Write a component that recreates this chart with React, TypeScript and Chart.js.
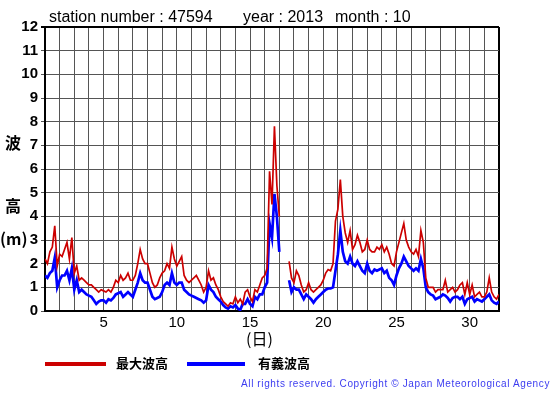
import React, { useEffect, useRef } from "react";
import { Chart, registerables } from "chart.js";

Chart.register(...registerables);

// Sampling: every 4 hours (6 samples per day), starting Oct 1 00:00 (day 1.0)
const FIRST_DAY = 1;
const SAMPLES_PER_DAY = 6;

// Y ticks 0..12, X ticks labelled at 5,10,...,30
const Y_MIN = 0;
const Y_MAX = 12;
const X_MIN = 1;
const X_MAX = 32;
const X_LABELS = [5, 10, 15, 20, 25, 30];

// 最大波高 (m)
const MAX_WAVE: (number | null)[] = [
  2.2, 2.0, 2.5, 2.7, 3.6, 1.9, // 1
  2.4, 2.3, 2.6, 2.9, 2.2, 3.1, // 2
  1.6, 1.9, 1.3, 1.4, 1.3, 1.2, // 3
  1.1, 1.1, 1.0, 0.9, 0.8, 0.9, // 4
  0.85, 0.8, 0.9, 0.8, 1.0, 1.3, // 5
  1.2, 1.5, 1.3, 1.4, 1.6, 1.3, // 6
  1.3, 1.5, 2.0, 2.6, 2.2, 2.0, // 7
  2.0, 1.6, 1.2, 1.0, 1.1, 1.4, // 8
  1.6, 1.7, 2.0, 1.8, 2.7, 2.2, // 9
  1.9, 2.1, 2.3, 1.5, 1.3, 1.2, // 10
  1.3, 1.4, 1.5, 1.3, 1.1, 0.8, // 11
  1.0, 1.7, 1.3, 1.4, 1.1, 0.9, // 12
  0.6, 0.4, 0.3, 0.2, 0.35, 0.3, // 13
  0.6, 0.35, 0.5, 0.3, 0.8, 0.9, // 14
  0.6, 0.4, 0.9, 0.8, 1.1, 1.4, // 15
  1.5, 1.8, 5.9, 4.5, 7.8, 5.3, // 16
  4.0, null, null, null, 2.1, 1.4, // 17
  1.2, 1.7, 1.5, 1.1, 0.8, 0.9, // 18
  1.2, 0.9, 0.8, 0.9, 1.0, 1.1, // 19
  1.3, 1.6, 1.75, 1.7, 2.0, 3.8, // 20
  4.3, 5.55, 4.0, 3.3, 2.9, 3.4, // 21
  2.6, 2.8, 3.2, 2.9, 2.5, 2.6, // 22
  3.0, 2.6, 2.5, 2.5, 2.7, 2.6, // 23
  2.8, 2.5, 2.7, 2.4, 2.0, 1.9, // 24
  2.5, 2.9, 3.3, 3.7, 3.0, 2.7, // 25
  2.5, 2.4, 2.6, 2.3, 3.4, 2.9, // 26
  1.4, 1.0, 1.0, 1.0, 0.8, 0.9, // 27
  0.9, 0.9, 1.3, 0.8, 0.9, 1.0, // 28
  0.8, 0.9, 1.1, 1.2, 0.7, 1.2, // 29
  0.7, 1.1, 0.6, 0.7, 0.8, 0.6, // 30
  0.6, 0.8, 1.4, 0.8, 0.6, 0.5, // 31
  0.7, // end
];

// 有義波高 (m)
const SIG_WAVE: (number | null)[] = [
  1.5, 1.4, 1.6, 1.7, 2.25, 1.0, // 1
  1.3, 1.5, 1.5, 1.7, 1.3, 1.8, // 2
  0.9, 1.3, 0.8, 0.9, 0.8, 0.7, // 3
  0.65, 0.6, 0.45, 0.3, 0.4, 0.45, // 4
  0.45, 0.35, 0.5, 0.45, 0.55, 0.7, // 5
  0.75, 0.8, 0.6, 0.7, 0.8, 0.7, // 6
  0.6, 0.9, 1.2, 1.6, 1.3, 1.2, // 7
  1.2, 0.9, 0.6, 0.5, 0.55, 0.6, // 8
  0.8, 1.1, 1.2, 1.1, 1.6, 1.2, // 9
  1.1, 1.2, 1.2, 0.9, 0.8, 0.7, // 10
  0.65, 0.6, 0.55, 0.5, 0.45, 0.35, // 11
  0.45, 1.1, 0.9, 0.8, 0.6, 0.5, // 12
  0.4, 0.25, 0.15, 0.1, 0.2, 0.15, // 13
  0.25, 0.1, 0.05, 0.3, 0.3, 0.5, // 14
  0.3, 0.2, 0.6, 0.5, 0.7, 0.7, // 15
  1.0, 1.2, 3.7, 3.1, 4.95, 4.0, // 16
  2.5, null, null, null, 1.3, 0.8, // 17
  1.0, 0.9, 0.9, 0.7, 0.5, 0.7, // 18
  0.6, 0.5, 0.35, 0.5, 0.6, 0.7, // 19
  0.8, 0.9, 0.95, 0.95, 1.0, 1.7, // 20
  2.4, 3.4, 2.5, 2.1, 2.0, 2.3, // 21
  2.0, 1.9, 2.1, 1.9, 1.7, 1.6, // 22
  2.0, 1.7, 1.6, 1.75, 1.7, 1.75, // 23
  1.8, 1.6, 1.7, 1.4, 1.3, 1.1, // 24
  1.5, 1.8, 2.0, 2.3, 2.1, 1.9, // 25
  1.8, 1.7, 1.8, 1.7, 2.2, 1.8, // 26
  1.0, 0.8, 0.7, 0.65, 0.5, 0.55, // 27
  0.6, 0.7, 0.65, 0.55, 0.4, 0.55, // 28
  0.6, 0.6, 0.5, 0.6, 0.3, 0.5, // 29
  0.55, 0.6, 0.4, 0.5, 0.45, 0.4, // 30
  0.5, 0.6, 0.7, 0.45, 0.35, 0.3, // 31
  0.4, // end
];

const SERIES_LABELS = ["最大波高", "有義波高"];
const SERIES_COLORS = ["#CC0000", "#0000FF"];

const LATIN = "'Liberation Sans', Arial, Helvetica, sans-serif";
const CJK = "'Noto Sans CJK JP', 'Noto Sans CJK SC', sans-serif";

export default function App() {
  const canvasRef = useRef<HTMLCanvasElement | null>(null);
  const copyRef = useRef<HTMLDivElement | null>(null);

  useEffect(() => {
    document.body.style.margin = "0";
    const toPoints = (arr: (number | null)[]) =>
      arr.map((v, i) => ({ x: FIRST_DAY + i / SAMPLES_PER_DAY, y: v }));

    const gridColor = (edgeValue: number) => (ctx: any) =>
      ctx.tick && ctx.tick.value === edgeValue ? "#000" : "#555";
    const gridWidth = (edgeValue: number) => (ctx: any) =>
      ctx.tick && ctx.tick.value === edgeValue ? 2 : 1;

    const chart = new Chart(canvasRef.current as HTMLCanvasElement, {
      type: "line",
      data: {
        datasets: [
          {
            label: SERIES_LABELS[0],
            data: toPoints(MAX_WAVE) as any,
            borderColor: SERIES_COLORS[0],
            borderWidth: 1.7,
            pointRadius: 0,
            tension: 0,
            spanGaps: false,
          },
          {
            label: SERIES_LABELS[1],
            data: toPoints(SIG_WAVE) as any,
            borderColor: SERIES_COLORS[1],
            borderWidth: 2.7,
            pointRadius: 0,
            tension: 0,
            spanGaps: false,
          },
        ],
      },
      options: {
        animation: false,
        responsive: false,
        events: [],
        layout: { padding: { left: 0, top: 27, right: 56, bottom: 0 } },
        plugins: { legend: { display: false }, tooltip: { enabled: false }, title: { display: false } },
        scales: {
          x: {
            type: "linear",
            min: X_MIN,
            max: X_MAX,
            ticks: {
              stepSize: 1,
              autoSkip: false,
              maxRotation: 0,
              color: "#000",
              padding: 3,
              font: { family: LATIN, size: 15 },
              callback: (v: any) => (X_LABELS.includes(Number(v)) ? String(v) : ""),
            },
            grid: { color: gridColor(X_MAX), lineWidth: gridWidth(X_MAX), drawTicks: false },
            border: { color: "#000", width: 2 },
            afterFit: (s: any) => {
              s.height = 84;
            },
          },
          y: {
            min: Y_MIN,
            max: Y_MAX,
            ticks: {
              stepSize: 1,
              color: "#000",
              padding: 3,
              font: { family: LATIN, size: 15, weight: "bold" },
            },
            grid: { color: gridColor(Y_MAX), lineWidth: gridWidth(Y_MAX), tickLength: 4 },
            border: { color: "#000", width: 2 },
            afterFit: (s: any) => {
              s.width = 45;
            },
          },
        },
      },
    });

    // fit copyright text to its measured width
    const el = copyRef.current;
    if (el) {
      const target = 309;
      const text = el.textContent || "";
      el.style.letterSpacing = "0px";
      const w = el.getBoundingClientRect().width;
      el.style.letterSpacing = `${(target - w) / text.length}px`;
    }

    return () => chart.destroy();
  }, []);

  const abs = (left: number, top: number, extra: React.CSSProperties = {}): React.CSSProperties => ({
    position: "absolute",
    left,
    top,
    whiteSpace: "pre",
    lineHeight: 1,
    ...extra,
  });

  return (
    <div style={{ position: "relative", width: 555, height: 395, background: "#fff", overflow: "hidden" }}>
      <canvas ref={canvasRef} width={555} height={395} style={{ position: "absolute", left: 0, top: 0, width: 555, height: 395 }} />
      <div style={abs(49, 9, { fontFamily: LATIN, fontSize: 16, color: "#000" })}>station number : 47594</div>
      <div style={abs(243, 9, { fontFamily: LATIN, fontSize: 16, color: "#000" })}>year : 2013</div>
      <div style={abs(335, 9, { fontFamily: LATIN, fontSize: 16, color: "#000" })}>month : 10</div>

      <div style={abs(5, 134, { fontFamily: CJK, fontSize: 16, fontWeight: 700 })}>波</div>
      <div style={abs(5, 197, { fontFamily: CJK, fontSize: 16, fontWeight: 700 })}>高</div>
      <div style={abs(0, 230, { fontFamily: CJK, fontSize: 16, fontWeight: 700 })}>(m)</div>

      <div style={abs(246, 330, { fontFamily: CJK, fontSize: 16 })}>(日)</div>

      <div style={{ position: "absolute", left: 45, top: 362, width: 61, height: 4, background: SERIES_COLORS[0] }} />
      <div style={abs(116, 356, { fontFamily: CJK, fontSize: 13, fontWeight: 700 })}>{SERIES_LABELS[0]}</div>
      <div style={{ position: "absolute", left: 187, top: 362, width: 58, height: 4, background: SERIES_COLORS[1] }} />
      <div style={abs(258, 356, { fontFamily: CJK, fontSize: 13, fontWeight: 700 })}>{SERIES_LABELS[1]}</div>

      <div ref={copyRef} style={abs(241, 379, { fontFamily: LATIN, fontSize: 10, color: "#3C3CF0" })}>
        All rights reserved. Copyright © Japan Meteorological Agency
      </div>
    </div>
  );
}
